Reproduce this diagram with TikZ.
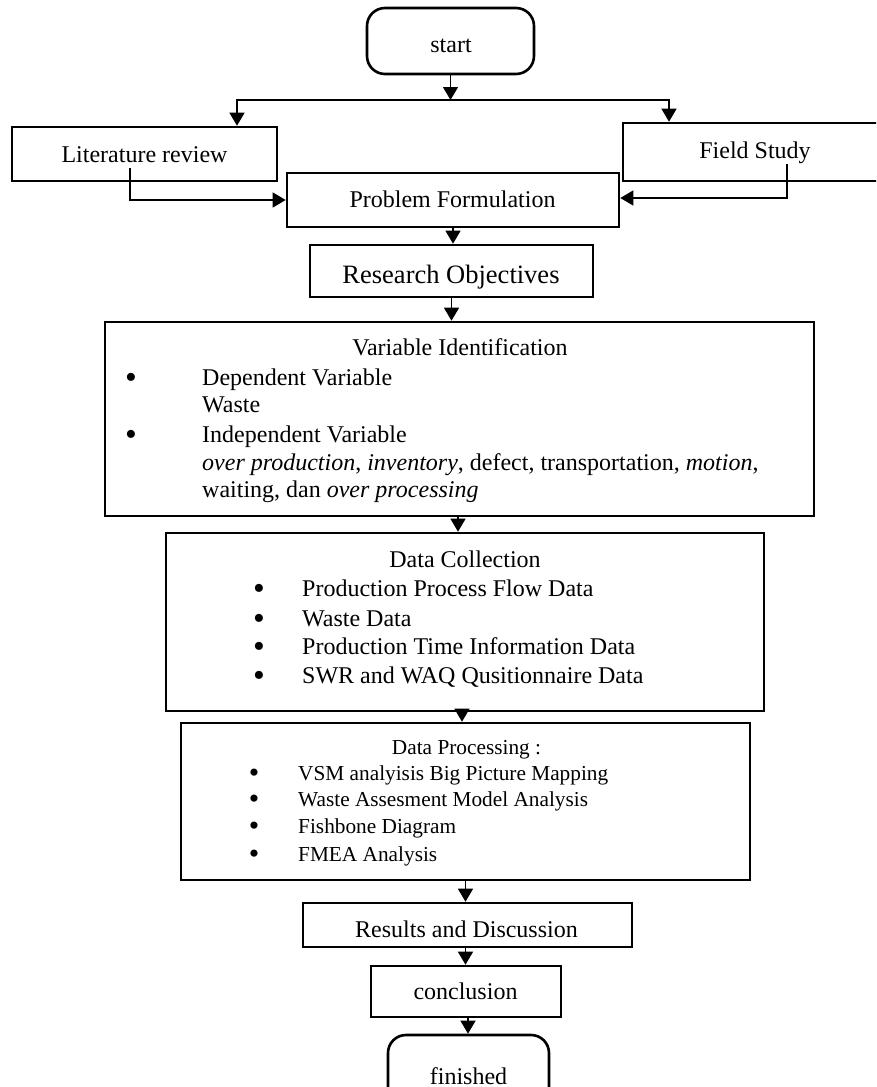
\documentclass[tikz,border=0pt]{standalone}
\usepackage{fontspec}
\setmainfont{Liberation Serif}
\usetikzlibrary{arrows.meta}
\newcommand\fszmain{\fontsize{24}{28}\selectfont}
\newcommand\fszbig{\fontsize{26.5}{30}\selectfont}
\newcommand\fszsmall{\fontsize{21.3}{25}\selectfont}
\newcommand\bigbul[1]{\smash{\raisebox{#1}{\scalebox{1.4}{\textbullet}}}}
\begin{document}
\begin{tikzpicture}[x=1pt,y=-1pt,
  box/.style={draw, line width=2.6pt, inner sep=0pt},
  term/.style={box, rounded corners=18pt},
  conn/.style={line width=1.3pt, -{Triangle[length=13pt,width=15pt]}},
  txt/.style={inner sep=0pt, anchor=base, font=\fszmain},
  lbl/.style={inner sep=0pt, anchor=base west, font=\fszmain},
  bul/.style={inner sep=0pt, anchor=base, font=\fszmain},
  slbl/.style={inner sep=0pt, anchor=base west, font=\fszsmall},
  sbul/.style={inner sep=0pt, anchor=base, font=\fszsmall},
]
\useasboundingbox (0,0) rectangle (876,1087);
\clip (0,0) rectangle (876,1087);

% boxes
\node[term, minimum width=167pt, minimum height=66pt] (start) at (450.5,41) {};
\node[txt] (starttxt) at (451,52) {start};

\node[box, minimum width=265pt, minimum height=54pt] (lit) at (144.5,154) {};
\node[txt] (littxt) at (144.5,162) {Literature review};

\node[box, minimum width=255pt, minimum height=58pt] (field) at (750.5,152) {};
\node[txt] (fieldtxt) at (755,158) {Field Study};

\node[box, minimum width=332pt, minimum height=54pt] (prob) at (453,200) {};
\node[txt] (probtxt) at (452.5,207) {Problem Formulation};

\node[box, minimum width=283pt, minimum height=52pt] (res) at (451.5,271) {};
\node[txt, font=\fszbig] (restxt) at (451,283) {Research Objectives};

\node[box, minimum width=709pt, minimum height=194pt] (var) at (459.5,419) {};
\node[txt] (vartitle) at (460,355) {Variable Identification};
\node[bul] (vb1) at (131,385) {\bigbul{-3.3pt}};
\node[lbl] (vl1) at (202,385) {Dependent Variable};
\node[lbl] (vl2) at (202,412) {Waste};
\node[bul] (vb2) at (131,442) {\bigbul{-3.3pt}};
\node[lbl] (vl3) at (202,442) {Independent Variable};
\node[lbl] (vl4) at (202,470) {\textit{over production}, \textit{inventory}, defect, transportation, \textit{motion},};
\node[lbl] (vl5) at (202,497) {waiting, dan \textit{over processing}};

\node[box, minimum width=598pt, minimum height=178pt] (dc) at (465,622) {};
\node[txt] (dctitle) at (465,567) {Data Collection};
\node[bul] (db1) at (259,596) {\bigbul{-3.3pt}};
\node[lbl] (dl1) at (302,596) {Production Process Flow Data};
\node[bul] (db2) at (259,626) {\bigbul{-3.3pt}};
\node[lbl] (dl2) at (302,626) {Waste Data};
\node[bul] (db3) at (259,654) {\bigbul{-3.3pt}};
\node[lbl] (dl3) at (302,654) {Production Time Information Data};
\node[bul] (db4) at (259,683) {\bigbul{-3.3pt}};
\node[lbl] (dl4) at (302,683) {SWR and WAQ Qusitionnaire Data};

\node[box, minimum width=569pt, minimum height=157pt] (dp) at (465.5,801.5) {};
\node[txt, font=\fszsmall] (dptitle) at (466.5,754) {Data Processing :};
\node[sbul] (pb1) at (254,780) {\bigbul{-2.7pt}};
\node[slbl] (pl1) at (298,780) {VSM analyisis Big Picture Mapping};
\node[sbul] (pb2) at (254,806) {\bigbul{-2.7pt}};
\node[slbl] (pl2) at (298,806) {Waste Assesment Model Analysis};
\node[sbul] (pb3) at (254,833) {\bigbul{-2.7pt}};
\node[slbl] (pl3) at (298,833) {Fishbone Diagram};
\node[sbul] (pb4) at (254,861) {\bigbul{-2.7pt}};
\node[slbl] (pl4) at (298,861) {FMEA Analysis};

\node[box, minimum width=329pt, minimum height=44pt] (rd) at (467.5,925) {};
\node[txt] (rdtxt) at (466.5,937) {Results and Discussion};

\node[box, minimum width=190pt, minimum height=51pt] (concl) at (466,991.5) {};
\node[txt] (concltxt) at (465.5,999) {conclusion};

\node[term, minimum width=161pt, minimum height=70pt] (fin) at (468.5,1070) {};
\node[txt] (fintxt) at (468.5,1084) {finished};

% connectors
\coordinate (split) at (450.5,100);
\draw[conn] (start.south) -- (split);
\draw[conn] (split) -| ([xshift=92.5pt]lit.north);
\draw[conn] (split) -| ([xshift=-81.5pt]field.north);
\draw[conn] ([xshift=-14.5pt,yshift=14pt]lit.south) |- (prob.west);
\draw[conn] ([xshift=36.5pt,yshift=18pt]field.south) |- ([yshift=2pt]prob.east);
\draw[conn] (prob.south) -- (prob.south |- res.north);
\draw[conn] (res.south) -- (res.south |- var.north);
\draw[conn] ([xshift=-1.5pt]var.south) -- ([xshift=-1.5pt]var.south |- dc.north);
\draw[conn] ([xshift=-3pt]dc.south) -- ([xshift=-3pt]dc.south |- dp.north);
\draw[conn] (dp.south) -- (dp.south |- rd.north);
\draw[conn] ([xshift=-2pt]rd.south) -- ([xshift=-2pt]rd.south |- concl.north);
\draw[conn] ([xshift=2pt]concl.south) -- ([xshift=2pt]concl.south |- fin.north);
\end{tikzpicture}
\end{document}
